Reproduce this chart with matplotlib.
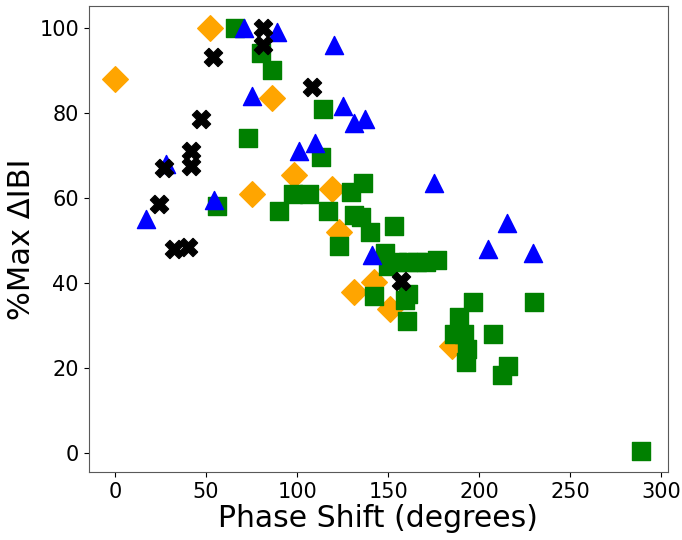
import matplotlib
matplotlib.use('Agg')
import matplotlib.pyplot as plt

# phase shift (degrees) vs % of max delta IBI, one group per marker
orange_x = [0, 52, 75.5, 86, 98.5, 119, 123, 131, 142, 151, 185]
orange_y = [88, 100, 61, 83.5, 65.5, 62, 52, 38, 40.3, 34, 25.3]

green_x = [56, 66, 73, 80, 86, 90, 97.5, 106.5, 113, 114, 117, 123, 129.5, 131,
           135, 136, 140, 142, 148, 150, 153, 155, 159, 160.5, 161, 161, 166, 171,
           177, 186, 189, 191.5, 193, 192.5, 196.5, 207.5, 212.5, 216, 230, 289]
green_y = [58, 100, 74, 94, 90, 57, 61, 61, 69.5, 81, 57, 48.7, 61.5, 56,
           55.5, 63.5, 52, 37, 47, 44, 53.5, 45, 36, 31, 37.5, 45, 45, 45,
           45.5, 28, 32, 28, 24.5, 21.5, 35.5, 28, 18.5, 20.5, 35.5, 0.6]

blue_x = [17, 28, 54.5, 71, 75, 89, 101, 110, 120, 125, 131, 137, 141, 175, 205, 215, 229.5]
blue_y = [55, 68, 59.5, 100, 84, 99, 71, 73, 96, 81.5, 77.5, 78.5, 46.5, 63.5, 48, 54, 47]

black_x = [24, 27, 32.5, 40, 42, 42, 47, 54, 81, 81, 108, 157]
black_y = [58.5, 67, 48, 48.5, 67.5, 71, 78.5, 93, 100, 96, 86, 40.5]


def main():
    fig = plt.figure(figsize=(6.82, 5.4), dpi=100)
    ax = fig.add_axes([0.130, 0.126, 0.849, 0.862])

    size = 170
    ax.scatter(orange_x, orange_y, s=size, marker='D', color='orange')
    ax.scatter(green_x, green_y, s=size, marker='s', color='green')
    ax.scatter(blue_x, blue_y, s=size, marker='^', color='blue')
    ax.scatter(black_x, black_y, s=size, marker='X', color='black')

    ax.set_xticks([0, 50, 100, 150, 200, 250, 300])
    ax.set_yticks([0, 20, 40, 60, 80, 100])
    ax.tick_params(labelsize=15)
    for sp in ax.spines.values():
        sp.set_color('0.35')
    ax.set_xlabel('Phase Shift (degrees)', fontsize=21.5, labelpad=2)
    ax.set_ylabel('%Max ΔIBI', fontsize=22, labelpad=2)

    fig.savefig('out.png', dpi=100)


if __name__ == '__main__':
    main()
